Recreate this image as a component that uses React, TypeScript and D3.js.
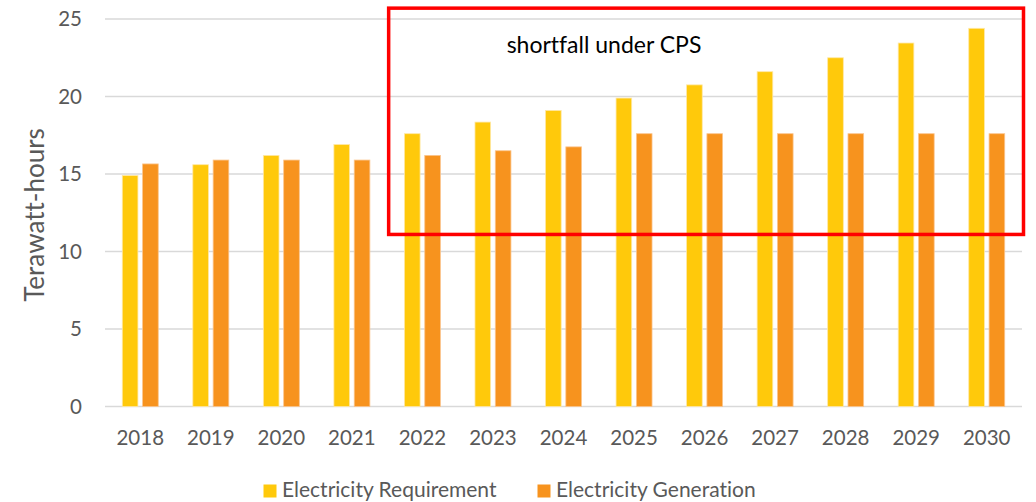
import React from "react";
import * as d3 from "d3";

const years = ["2018","2019","2020","2021","2022","2023","2024","2025","2026","2027","2028","2029","2030"];
const requirement = [14.9, 15.6, 16.2, 16.9, 17.6, 18.35, 19.1, 19.9, 20.75, 21.6, 22.5, 23.45, 24.4];
const generation = [15.65, 15.9, 15.9, 15.9, 16.2, 16.5, 16.75, 17.6, 17.6, 17.6, 17.6, 17.6, 17.6];
const seriesNames = ["Electricity Requirement", "Electricity Generation"];
const seriesColors = ["#FFC90B", "#F7931E"];
const seriesStrokes = ["#FFE8A6", "#FBC58E"];
const yTicks = [0, 5, 10, 15, 20, 25];
const yTitle = "Terawatt-hours";
const annotationText = "shortfall under CPS";
const annotationYears = ["2022", "2030"];
const annotationRange = [11.1, 25.7];

const W = 1036, H = 502;
const FONT = "Lato, 'Open Sans', sans-serif";

export default function App() {
  const x = d3.scaleBand<string>().domain(years).range([105, 1022]).paddingInner(0.49).paddingOuter(0.245);
  const xs = d3.scaleBand<string>().domain(seriesNames).range([0, x.bandwidth()]).paddingInner(0.23);
  const y = d3.scaleLinear().domain([0, 25]).range([406.5, 19]);
  const values = [requirement, generation];

  const step = x.step();
  const boxLeft = (x(annotationYears[0]) as number) - (step - x.bandwidth()) / 2 + 1.5;
  const boxRight = x.range()[1] + 1.5;
  const boxTop = y(annotationRange[1]);
  const boxBottom = y(annotationRange[0]);

  return (
    <svg width={W} height={H} style={{ position: "absolute", left: 0, top: 0, background: "#fff", fontVariantLigatures: "none" }} fontFamily={FONT}>
      {yTicks.map((t) => (
        <g key={t}>
          <line x1={105} x2={1022} y1={y(t)} y2={y(t)} stroke="#D9D9D9" strokeWidth={1.5} />
          <text x={82} y={y(t)} dy="0.36em" textAnchor="end" fontSize={20.5} fill="#595959">{t}</text>
        </g>
      ))}
      {years.map((yr, i) => (
        <g key={yr}>
          {values.map((vals, s) => {
            const bx = (x(yr) as number) + (xs(seriesNames[s]) as number);
            return (
              <rect key={s} x={bx} y={y(vals[i])} width={xs.bandwidth()} height={y(0) - y(vals[i])}
                fill={seriesColors[s]} stroke={seriesStrokes[s]} strokeWidth={0.8} />
            );
          })}
          <text x={(x(yr) as number) + x.bandwidth() / 2} y={445} textAnchor="middle" fontSize={20.5} fill="#595959">{yr}</text>
        </g>
      ))}
      <text transform={`translate(44,215) rotate(-90)`} textAnchor="middle" fontSize={26} fill="#595959">{yTitle}</text>
      <rect x={boxLeft} y={boxTop} width={boxRight - boxLeft} height={boxBottom - boxTop} fill="none" stroke="#FF0000" strokeWidth={3.5} />
      <text x={604} y={53} textAnchor="middle" fontSize={23} fill="#000" style={{ fontVariantLigatures: "none" }}>{annotationText}</text>
      {seriesNames.map((n, s) => {
        const lx = [263.5, 537.5][s];
        return (
          <g key={n}>
            <rect x={lx} y={484.5} width={13} height={13} fill={seriesColors[s]} />
            <text x={lx + 18.5} y={497} fontSize={21} fill="#595959">{n}</text>
          </g>
        );
      })}
    </svg>
  );
}
